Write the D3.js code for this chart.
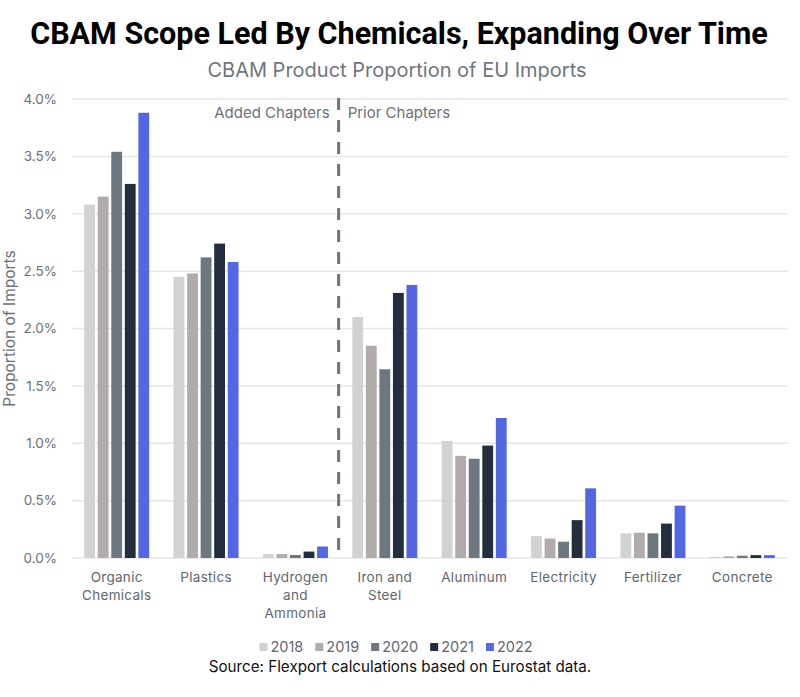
<!DOCTYPE html>
<html>
<head>
<meta charset="utf-8">
<script src="https://cdn.jsdelivr.net/npm/d3@7"></script>
<style>
  body { margin: 0; background: #fff; }
  svg { display: block; font-family: "Inter", "Roboto", sans-serif; }
</style>
</head>
<body>
<div id="chart"></div>
<script>
// categories and years
const categories = ["Organic\nChemicals", "Plastics", "Hydrogen\nand\nAmmonia", "Iron and\nSteel",
                    "Aluminum", "Electricity", "Fertilizer", "Concrete"];
const years = ["2018", "2019", "2020", "2021", "2022"];

// proportion of EU imports (%), one array per year, in category order
const v2018 = [3.08, 2.45, 0.035, 2.10, 1.02, 0.19, 0.215, 0.010];
const v2019 = [3.15, 2.48, 0.035, 1.85, 0.89, 0.17, 0.220, 0.015];
const v2020 = [3.54, 2.62, 0.026, 1.645, 0.865, 0.142, 0.215, 0.020];
const v2021 = [3.26, 2.74, 0.056, 2.31, 0.98, 0.33, 0.300, 0.025];
const v2022 = [3.88, 2.58, 0.100, 2.38, 1.22, 0.607, 0.456, 0.025];
const seriesValues = [v2018, v2019, v2020, v2021, v2022];

const yTicks = [0, 0.5, 1.0, 1.5, 2.0, 2.5, 3.0, 3.5, 4.0];

const colors = ["#d3d2d2", "#b1abab", "#6d7780", "#222e3e", "#5467e2"];

// set the dimensions
const W = 800, H = 697;
const plot = {left: 72, right: 787, top: 99, bottom: 558};

const svg = d3.select("#chart").append("svg")
    .attr("width", W)
    .attr("height", H);

// title + subtitle
svg.append("text")
    .attr("x", 399).attr("y", 44)
    .attr("text-anchor", "middle")
    .style("font-family", "Roboto, sans-serif")
    .style("font-size", "30.5px")
    .style("font-weight", 700)
    .attr("fill", "#000")
    .text("CBAM Scope Led By Chemicals, Expanding Over Time");

svg.append("text")
    .attr("x", 397).attr("y", 77)
    .attr("text-anchor", "middle")
    .style("font-size", "20px")
    .attr("fill", "#6f7680")
    .text("CBAM Product Proportion of EU Imports");

// scales
const x0 = d3.scaleBand()
    .domain(categories)
    .range([plot.left, plot.right])
    .padding(0);

const groupW = 65;
const x1 = d3.scaleBand()
    .domain(years)
    .range([(x0.bandwidth() - groupW) / 2, (x0.bandwidth() + groupW) / 2])
    .paddingInner(0.2);

const y = d3.scaleLinear()
    .domain([0, 4])
    .range([plot.bottom, plot.top]);

// gridlines
svg.append("g")
    .selectAll("line")
    .data(yTicks)
    .join("line")
        .attr("x1", plot.left)
        .attr("x2", plot.right + 1)
        .attr("y1", d => y(d))
        .attr("y2", d => y(d))
        .attr("stroke", "#e6e6e6")
        .attr("stroke-width", 1.5);

// y axis (labels only)
const yAxis = svg.append("g")
    .attr("transform", `translate(${plot.left},0)`)
    .call(d3.axisLeft(y).tickValues(yTicks).tickFormat(d => d.toFixed(1) + "%").tickSize(0).tickPadding(15));
yAxis.select(".domain").remove();
yAxis.selectAll("text")
    .style("font-family", "Inter, sans-serif")
    .style("font-size", "13.5px")
    .attr("fill", "#6b717a");

svg.append("text")
    .attr("transform", `translate(15,${(plot.top + plot.bottom) / 2}) rotate(-90)`)
    .attr("text-anchor", "middle")
    .style("font-size", "15.5px")
    .attr("fill", "#6b717a")
    .text("Proportion of Imports");

// bars
const rows = categories.map((c, i) => ({cat: c, vals: years.map((yr, j) => ({year: yr, value: seriesValues[j][i]}))}));

svg.append("g")
    .selectAll("g")
    .data(rows)
    .join("g")
        .attr("transform", d => `translate(${x0(d.cat)},0)`)
        .selectAll("rect")
        .data(d => d.vals)
        .join("rect")
            .attr("x", d => x1(d.year))
            .attr("y", d => y(d.value))
            .attr("width", x1.bandwidth())
            .attr("height", d => y(0) - y(d.value))
            .attr("fill", (d, j) => colors[j]);

// x axis labels
const xLabels = svg.append("g")
    .selectAll("text")
    .data(categories)
    .join("text")
        .attr("x", d => x0(d) + x0.bandwidth() / 2)
        .attr("y", plot.bottom + 24)
        .attr("text-anchor", "middle")
        .style("font-size", "13.5px")
        .style("letter-spacing", "0.3px")
        .attr("fill", "#5f6670");
xLabels.each(function(d) {
    const lines = d.split("\n");
    d3.select(this).selectAll("tspan")
        .data(lines)
        .join("tspan")
            .attr("x", x0(d) + x0.bandwidth() / 2)
            .attr("dy", (l, i) => i === 0 ? 0 : 18)
            .text(l => l);
});

// divider between added and prior chapters
const divX = x0(categories[3]) - 1.5;
svg.append("line")
    .attr("x1", divX).attr("x2", divX)
    .attr("y1", plot.top - 1).attr("y2", plot.bottom)
    .attr("stroke", "#6f747b")
    .attr("stroke-width", 3)
    .attr("stroke-dasharray", "12,10");

svg.append("text")
    .attr("x", divX - 9).attr("y", 118)
    .attr("text-anchor", "end")
    .style("font-size", "15px")
    .attr("fill", "#6b717a")
    .text("Added Chapters");

svg.append("text")
    .attr("x", divX + 9).attr("y", 118)
    .style("font-size", "15px")
    .attr("fill", "#6b717a")
    .text("Prior Chapters");

// legend
const legend = svg.append("g");
const items = legend.selectAll("g")
    .data(years)
    .join("g");
items.append("rect")
    .attr("width", 8).attr("height", 8)
    .attr("y", -9)
    .attr("fill", (d, i) => colors[i]);
items.append("text")
    .attr("x", 11)
    .attr("y", 0)
    .style("font-size", "14.5px")
    .attr("fill", "#5f6670")
    .text(d => d);
let lx = 0;
items.each(function() {
    d3.select(this).attr("transform", `translate(${lx},0)`);
    lx += this.getBBox().width + 12;
});
const legendW = lx - 12;
legend.attr("transform", `translate(${396 - legendW / 2},652)`);

// source
svg.append("text")
    .attr("x", 400).attr("y", 672)
    .attr("text-anchor", "middle")
    .style("font-size", "15.2px")
    .attr("fill", "#111")
    .text("Source: Flexport calculations based on Eurostat data.");
</script>
</body>
</html>
